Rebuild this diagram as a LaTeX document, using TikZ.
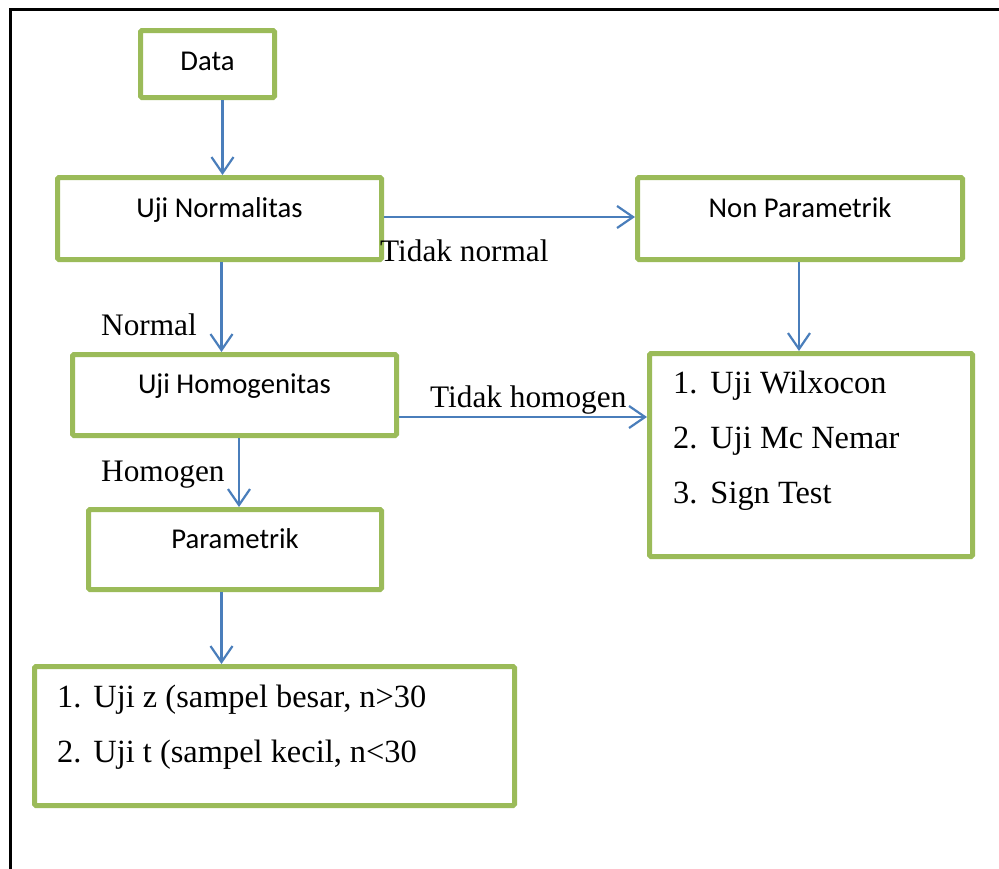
\documentclass[tikz,border=0pt]{standalone}
\usepackage{fontspec}
\setmainfont{Liberation Serif}
\newfontfamily\calibri{Carlito}
\usepackage{tikz}
\usepackage{xcolor}
\usetikzlibrary{arrows.meta, positioning, calc}

\definecolor{boxgreen}{HTML}{9BBB59}
\definecolor{flowblue}{HTML}{4A7EBB}

\begin{document}
\begin{tikzpicture}[x=1pt, y=-1pt,
    box/.style={draw=boxgreen, line width=5pt, rounded corners=1.5pt, inner sep=0pt, align=center, font=\calibri\fontsize{28.7}{34}\selectfont},
    flow/.style={draw=flowblue, line width=2.2pt, -{Straight Barb[length=16pt, width=22pt]}},
    lbl/.style={anchor=base west, inner sep=0pt, font=\fontsize{31.3}{38}\selectfont},
    items/.style={anchor=base west, inner sep=0pt, font=\fontsize{32.4}{55}\selectfont}]
    \useasboundingbox (0, 0) rectangle (999, 868);

    % Page frame
    \draw[line width=2.8pt] (10.5, 9.5) rectangle (1020, 890);

    % Boxes
    \node[box, minimum width=134pt, text height=39.5pt, text depth=27.5pt] (data) at (207.5, 64) {Data};
    \node[box, minimum width=324pt, text height=39.5pt, text depth=42.5pt] (normal) at (219.5, 218.5) {Uji Normalitas};
    \node[box, minimum width=325pt, text height=39.5pt, text depth=42.5pt] (nonpar) at (800, 218.5) {Non Parametrik};
    \node[box, minimum width=324pt, text height=38.5pt, text depth=42.5pt] (homog) at (234.5, 395) {Uji Homogenitas};
    \node[box, minimum width=293pt, text height=38.5pt, text depth=41.5pt] (param) at (235, 549.5) {Parametrik};
    \node[box, minimum width=323pt, minimum height=203pt] (listnp) at (811, 455) {};
    \node[box, minimum width=480pt, minimum height=139pt] (listp) at (274.5, 736) {};

    % List items
    \node[items] (itemsnp) at (673, 393) {\begin{tabular}[t]{@{}l@{\hspace{13pt}}l@{}}
        1. & Uji Wilxocon\\
        2. & Uji Mc Nemar\\
        3. & Sign Test
    \end{tabular}};
    \node[items] (itemsp) at (57, 707) {\begin{tabular}[t]{@{}l@{\hspace{12pt}}l@{}}
        1. & Uji z (sampel besar, n>30\\
        2. & Uji t (sampel kecil, n<30
    \end{tabular}};

    % Arrows
    \draw[flow] ([xshift=15pt]data.south) -- ([xshift=15pt]data.south |- normal.north);
    \draw[flow] ([xshift=2pt]normal.south) -- ([xshift=2pt]normal.south |- homog.north);
    \draw[flow] ([yshift=1.5pt]normal.east) -- ([yshift=1.5pt]normal.east -| nonpar.west);
    \draw[flow] ([xshift=-1pt]nonpar.south) -- ([xshift=-1pt]nonpar.south |- listnp.north);
    \draw[flow] ([yshift=-22pt]homog.east) -- ([yshift=-22pt]homog.east -| listnp.west);
    \draw[flow] ([xshift=4.5pt]homog.south) -- ([xshift=4.5pt]homog.south |- param.north);
    \draw[flow] ([xshift=-13.5pt]param.south) -- ([xshift=-13.5pt]param.south |- listp.north);

    % Labels
    \node[lbl] (tnormal) at (380, 261) {Tidak normal};
    \node[lbl] (ynormal) at (101, 335) {Normal};
    \node[lbl] (thomog) at (430, 407) {Tidak homogen};
    \node[lbl] (yhomog) at (101, 481) {Homogen};

\end{tikzpicture}
\end{document}
